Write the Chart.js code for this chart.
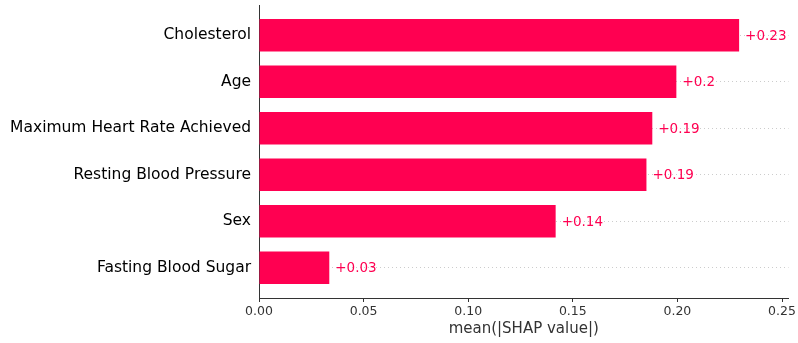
<!DOCTYPE html>
<html>
<head>
<meta charset="utf-8">
<script src="https://cdn.jsdelivr.net/npm/chart.js@4/dist/chart.umd.min.js"></script>
<style>
  html, body { margin: 0; padding: 0; background: #fff; overflow: hidden; }
  canvas { display: block; }
</style>
</head>
<body>
<canvas id="shap" width="798" height="343"></canvas>
<script>
// features, top to bottom
let features = ["Cholesterol", "Age", "Maximum Heart Rate Achieved", "Resting Blood Pressure", "Sex", "Fasting Blood Sugar"]
let meanShap = [0.2295, 0.1995, 0.1880, 0.1852, 0.1418, 0.0336]
let valueLabels = ["+0.23", "+0.2", "+0.19", "+0.19", "+0.14", "+0.03"]
let xTicks = [0, 0.05, 0.10, 0.15, 0.20, 0.25]

let red = "#ff0051"
let axisGrey = "#333333"

// writes "+0.23" etc. just right of each bar
let barText = {
    id: "barText",
    afterDatasetsDraw(chart) {
        let ctx = chart.ctx
        let meta = chart.getDatasetMeta(0)
        ctx.save()
        ctx.font = "13.5px 'DejaVu Sans'"
        ctx.fillStyle = red
        ctx.textAlign = "left"
        ctx.textBaseline = "middle"
        meta.data.forEach((bar, i) => {
            ctx.fillText(valueLabels[i], bar.x + 6, bar.y + 1)
        })
        ctx.restore()
    }
}

let ctx = document.getElementById("shap").getContext("2d")

let chart = new Chart(ctx, {
    type: "bar",
    data: {
        datasets: [{
            data: meanShap.map((v, i) => ({ x: v, y: i })),
            backgroundColor: red,
            borderWidth: 0,
            categoryPercentage: 1,
            barPercentage: 0.7
        }]
    },
    options: {
        indexAxis: "y",
        responsive: false,
        animation: false,
        layout: { padding: { top: 5, right: 6, left: 0, bottom: 0 } },
        plugins: {
            legend: { display: false },
            tooltip: { enabled: false }
        },
        scales: {
            x: {
                type: "linear",
                min: 0,
                max: 0.2531,
                afterBuildTicks: axis => { axis.ticks = xTicks.map(v => ({ value: v })) },
                afterFit: scale => { scale.height = 45 },
                ticks: {
                    color: axisGrey,
                    font: { family: "'DejaVu Sans'", size: 12.5 },
                    padding: 2,
                    maxRotation: 0,
                    callback: v => v.toFixed(2)
                },
                grid: {
                    drawOnChartArea: false,
                    drawTicks: true,
                    tickLength: 4,
                    color: axisGrey
                },
                border: { display: true, color: axisGrey, width: 1 },
                title: {
                    display: true,
                    text: "mean(|SHAP value|)",
                    color: axisGrey,
                    font: { family: "'DejaVu Sans'", size: 15 },
                    padding: { top: 1, bottom: 5 }
                }
            },
            y: {
                type: "linear",
                reverse: true,
                offset: false,
                min: -0.65,
                max: features.length - 0.35,
                afterBuildTicks: axis => { axis.ticks = features.map((f, i) => ({ value: i })) },
                afterFit: scale => {
                    scale.width = 259
                    scale.paddingTop = 0
                    scale.paddingBottom = 0
                },
                ticks: {
                    color: "#000000",
                    font: { family: "'DejaVu Sans'", size: 15.5 },
                    padding: 8,
                    callback: v => features[v]
                },
                grid: {
                    offset: false,
                    drawTicks: false,
                    color: "#cccccc",
                    lineWidth: 1
                },
                border: { display: true, color: axisGrey, width: 1, dash: [1, 3] }
            }
        }
    },
    plugins: [barText]
})
</script>
</body>
</html>
